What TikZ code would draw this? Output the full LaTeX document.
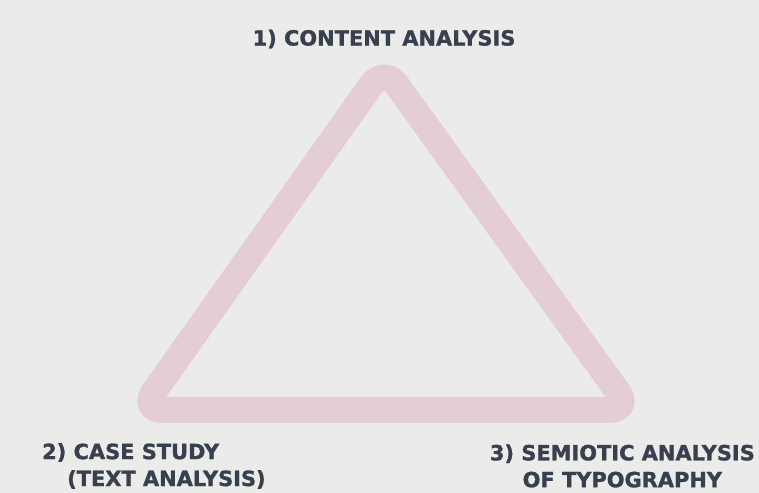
\documentclass[tikz,border=0pt]{standalone}
\usepackage{fontspec}
\setmainfont{DejaVu Sans}
\newfontfamily\headfont{DejaVu Sans}[UprightFont={* Bold}, FakeBold=1.2]
\usepackage{tikz}

\definecolor{paper}{HTML}{EBEBE9}
\definecolor{rose}{HTML}{E5CDD5}
\definecolor{slate}{HTML}{37404E}

\tikzset{
    steplabel/.style={text=slate, font=\headfont\fontsize{21}{27}\selectfont, inner sep=0pt}
}

\begin{document}
\begin{tikzpicture}[x=1bp,y=1bp]
        % Background
        \fill[paper] (0,0) rectangle (759,493);

        % Triangle
        \draw[rose, line width=26bp, line join=round, rounded corners=22bp]
            (384,426) -- (141,83) -- (631,83) -- cycle;

        % Steps
        \node[steplabel] (content) at (384,454) {1) CONTENT ANALYSIS};
        \node[steplabel, anchor=west, align=left] (casestudy) at (42,27)
            {2) CASE STUDY\\\hspace*{25bp}(TEXT ANALYSIS)};
        \node[steplabel, anchor=east, align=center] (semiotic) at (755,27)
            {3) SEMIOTIC ANALYSIS\\OF TYPOGRAPHY};
\end{tikzpicture}
\end{document}
